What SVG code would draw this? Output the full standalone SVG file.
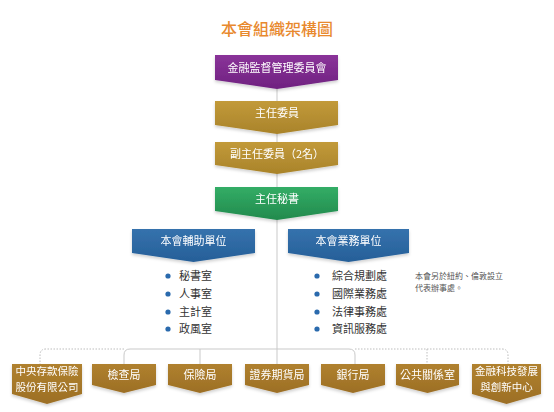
<svg xmlns="http://www.w3.org/2000/svg" width="554" height="412" viewBox="0 0 554 412">
<defs>
<linearGradient id="gPur" x1="0" y1="0" x2="0" y2="1"><stop offset="0" stop-color="#8a3399"/><stop offset="1" stop-color="#6f2280"/></linearGradient>
<linearGradient id="gGold" x1="0" y1="0" x2="0" y2="1"><stop offset="0" stop-color="#c29a3a"/><stop offset="1" stop-color="#a9832a"/></linearGradient>
<linearGradient id="gGrn" x1="0" y1="0" x2="0" y2="1"><stop offset="0" stop-color="#33ad66"/><stop offset="1" stop-color="#228a4d"/></linearGradient>
<linearGradient id="gBlu" x1="0" y1="0" x2="0" y2="1"><stop offset="0" stop-color="#3572ad"/><stop offset="1" stop-color="#265f98"/></linearGradient>
<linearGradient id="gBrn" x1="0" y1="0" x2="0" y2="1"><stop offset="0" stop-color="#b0812f"/><stop offset="1" stop-color="#9c6f25"/></linearGradient>
<filter id="sh" x="-20%" y="-20%" width="140%" height="160%"><feDropShadow dx="0" dy="2" stdDeviation="1.5" flood-color="#000" flood-opacity="0.18"/></filter>
</defs>
<style>
text{font-family:"Noto Sans CJK TC","Liberation Sans",sans-serif}
.w{fill:#fff;font-size:11px;text-anchor:middle}
.w2{fill:#fff;font-size:10.5px;text-anchor:middle}
.t{fill:#e8892e;font-size:16px;text-anchor:middle;font-weight:500}
.li{fill:#333;font-size:11px}
.n{fill:#555;font-size:8px}
.dot{fill:#2a6aad}
.sl{fill:none;stroke:#c9c9c9;stroke-width:1}
.dl{fill:none;stroke:#bdbdbd;stroke-width:1;stroke-dasharray:1.5 1.5}
</style>
<rect width="554" height="412" fill="#fff"/>
<text class="t" x="277" y="35">本會組織架構圖</text>
<g id="connectors">
<path class="sl" d="M277 85 V364"/>
<path class="sl" d="M124 364 V355 Q124 349 130 349 H349 Q355 349 355 355 V364"/>
<path class="sl" d="M200 349 V364"/>
<path class="dl" d="M124 349 H46 Q40 349 40 355 V364"/>
<path class="dl" d="M355 349 H502 Q508 349 508 355 V364"/>
<path class="dl" d="M427 349 V364"/>
</g>
<g id="n-fsc" filter="url(#sh)"><path d="M215 55 H338 V80 L277 89 L215 80 Z" fill="url(#gPur)"/><text class="w" x="277" y="71.5">金融監督管理委員會</text></g>
<g id="n-chair" filter="url(#sh)"><path d="M215 101 H338 V125 L277 134 L215 125 Z" fill="url(#gGold)"/><text class="w" x="277" y="117">主任委員</text></g>
<g id="n-vice" filter="url(#sh)"><path d="M215 142 H338 V165 L277 174 L215 165 Z" fill="url(#gGold)"/><text class="w" x="277" y="157.5">副主任委員（2名）</text></g>
<g id="n-sec" filter="url(#sh)"><path d="M215 187 H338 V211 L277 220 L215 211 Z" fill="url(#gGrn)"/><text class="w" x="277" y="203">主任秘書</text></g>
<g id="n-aux" filter="url(#sh)"><path d="M132 229 H255 V253 L193.5 262 L132 253 Z" fill="url(#gBlu)"/><text class="w" x="193.5" y="245">本會輔助單位</text></g>
<g id="n-biz" filter="url(#sh)"><path d="M288 229 H409 V253 L348.5 262 L288 253 Z" fill="url(#gBlu)"/><text class="w" x="348.5" y="245">本會業務單位</text></g>
<g id="aux-list">
<circle class="dot" cx="168" cy="276" r="2.6"/><text class="li" x="179" y="280">秘書室</text>
<circle class="dot" cx="168" cy="294" r="2.6"/><text class="li" x="179" y="298">人事室</text>
<circle class="dot" cx="168" cy="312" r="2.6"/><text class="li" x="179" y="316">主計室</text>
<circle class="dot" cx="168" cy="329" r="2.6"/><text class="li" x="179" y="333">政風室</text>
</g>
<g id="biz-list">
<circle class="dot" cx="317" cy="276" r="2.6"/><text class="li" x="332" y="280">綜合規劃處</text>
<circle class="dot" cx="317" cy="294" r="2.6"/><text class="li" x="332" y="298">國際業務處</text>
<circle class="dot" cx="317" cy="312" r="2.6"/><text class="li" x="332" y="316">法律事務處</text>
<circle class="dot" cx="317" cy="329" r="2.6"/><text class="li" x="332" y="333">資訊服務處</text>
</g>
<g id="note"><text class="n" x="415" y="279">本會另於紐約、倫敦設立</text><text class="n" x="415" y="291">代表辦事處。</text></g>
<g id="b1" filter="url(#sh)"><path d="M12 364 H82 V394 L47 404 L12 394 Z" fill="url(#gBrn)"/><text class="w2" x="47" y="375">中央存款保險</text><text class="w2" x="47" y="390.5">股份有限公司</text></g>
<g id="b2" filter="url(#sh)"><path d="M92 364 H156 V385 L124 393 L92 385 Z" fill="url(#gBrn)"/><text class="w" x="124" y="379">檢查局</text></g>
<g id="b3" filter="url(#sh)"><path d="M168 364 H232 V385 L200 393 L168 385 Z" fill="url(#gBrn)"/><text class="w" x="200" y="379">保險局</text></g>
<g id="b4" filter="url(#sh)"><path d="M245 364 H309 V385 L277 393 L245 385 Z" fill="url(#gBrn)"/><text class="w" x="277" y="379">證券期貨局</text></g>
<g id="b5" filter="url(#sh)"><path d="M321 364 H385 V385 L353 393 L321 385 Z" fill="url(#gBrn)"/><text class="w" x="353" y="379">銀行局</text></g>
<g id="b6" filter="url(#sh)"><path d="M396 364 H459 V385 L427.5 393 L396 385 Z" fill="url(#gBrn)"/><text class="w" x="427.5" y="379">公共關係室</text></g>
<g id="b7" filter="url(#sh)"><path d="M472 364 H541 V394 L506.5 404 L472 394 Z" fill="url(#gBrn)"/><text class="w2" x="506.5" y="375">金融科技發展</text><text class="w2" x="506.5" y="390.5">與創新中心</text></g>
</svg>
